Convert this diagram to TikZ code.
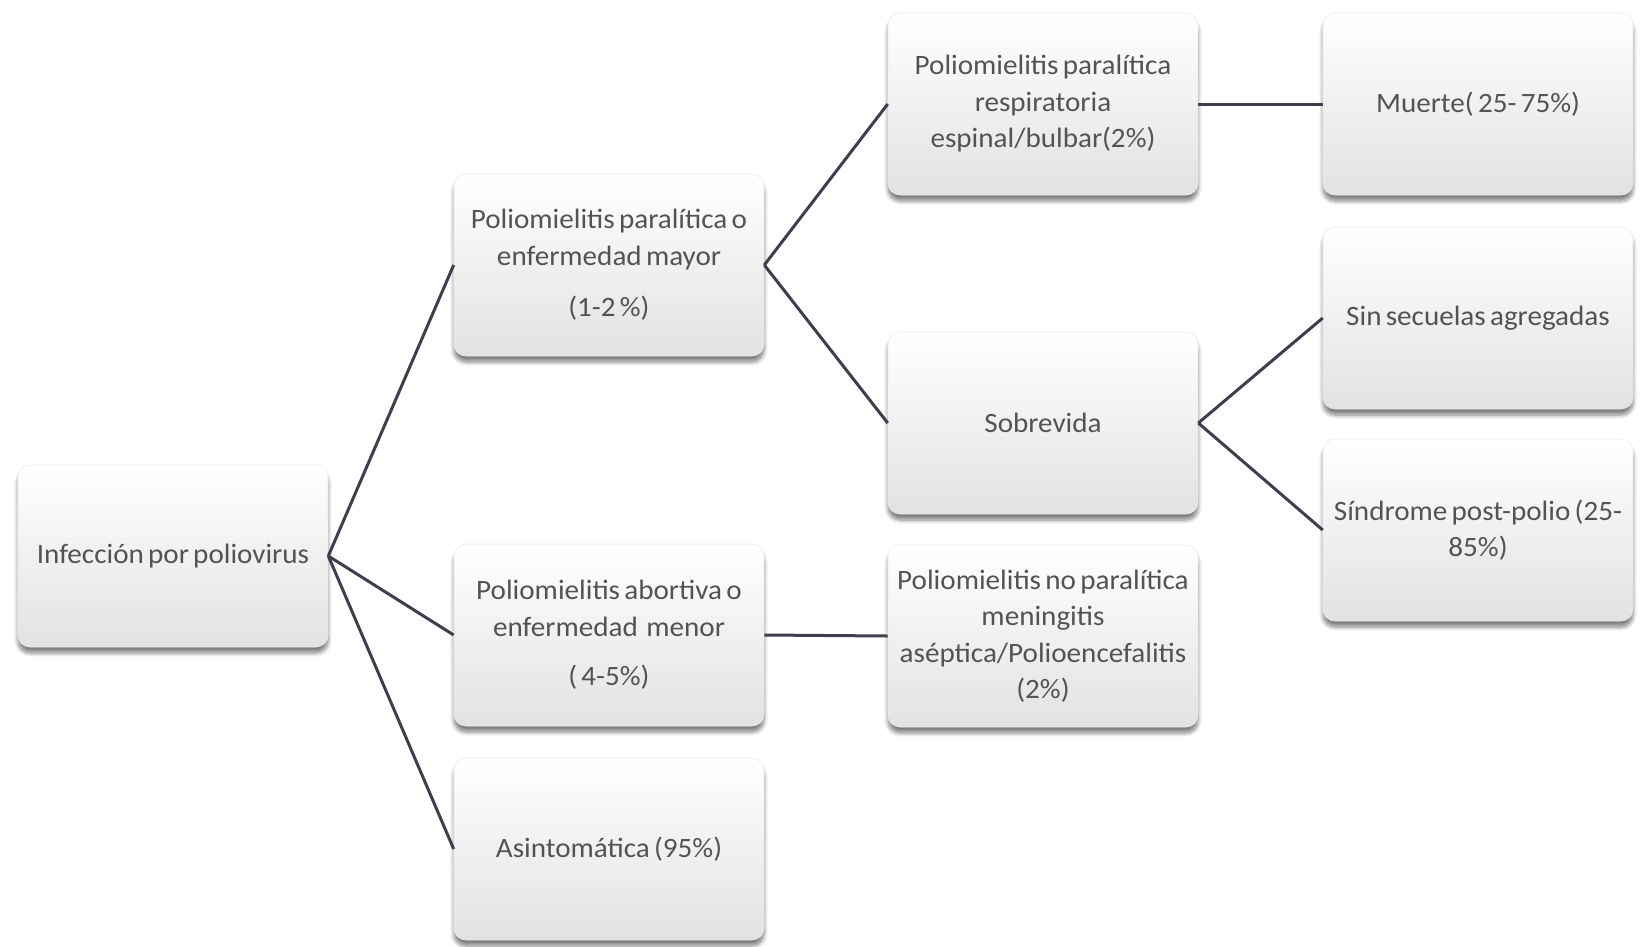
\documentclass[tikz,border=0pt]{standalone}
\usepackage{fontspec}
\setmainfont{Carlito}[FakeStretch=1.04, WordSpace={0.65}]
\usetikzlibrary{shadows.blur}
\definecolor{txtgray}{HTML}{535353}
\definecolor{linecol}{HTML}{3B404C}
\definecolor{boxbot}{HTML}{E2E2E2}
\tikzset{
  box/.style={rectangle, rounded corners=12pt, minimum width=310pt, minimum height=182pt,
    top color=white, bottom color=boxbot, draw=white!92!black, line width=0.6pt,
    text=txtgray, align=center, font=\fontsize{28}{36.5}\selectfont,
    blur shadow={shadow xshift=0pt, shadow yshift=-6pt, shadow blur radius=4pt, shadow blur steps=6, shadow opacity=50}},
  link/.style={draw=linecol, line width=3pt}
}
\begin{document}
\begin{tikzpicture}[x=1pt,y=-1pt]
\useasboundingbox (0,0) rectangle (1646,946);
\node[box] (A) at (173,556) {Infección por poliovirus};
\node[box] (B) at (609,265) {Poliomielitis paralítica o\\enfermedad mayor\\[15pt](1-2 \%)};
\node[box] (C) at (609,635) {Poliomielitis abortiva o\\enfermedad\ \ menor\\[13pt]( 4-5\%)};
\node[box] (D) at (609,849) {Asintomática (95\%)};
\node[box] (E) at (1043,104) {Poliomielitis paralítica\\respiratoria\\espinal/bulbar(2\%)};
\node[box] (F) at (1043,423) {Sobrevida};
\node[box] (G) at (1043,636) {Poliomielitis no paralítica\\meningitis\\aséptica/Polioencefalitis\\(2\%)};
\node[box] (H) at (1478,104) {Muerte( 25- 75\%)};
\node[box] (I) at (1478,318) {Sin secuelas agregadas};
\node[box] (J) at (1478,530) {Síndrome post-polio (25-\\85\%)};
\draw[link] (A.east) -- (B.west);
\draw[link] (A.east) -- (C.west);
\draw[link] (A.east) -- (D.west);
\draw[link] (B.east) -- (E.west);
\draw[link] (B.east) -- (F.west);
\draw[link] (E.east) -- (H.west);
\draw[link] (F.east) -- (I.west);
\draw[link] (F.east) -- (J.west);
\draw[link] (C.east) -- (G.west);
\end{tikzpicture}
\end{document}
